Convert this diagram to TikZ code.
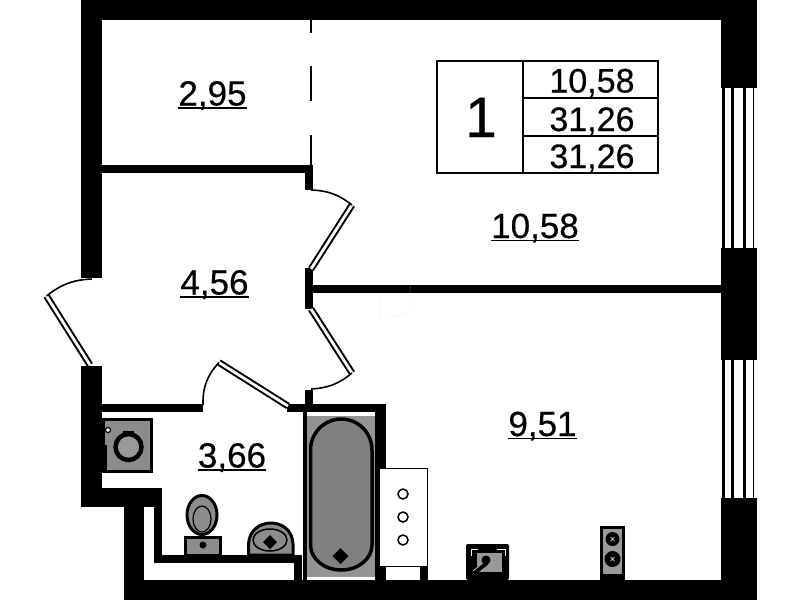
\documentclass[tikz,border=0pt]{standalone}
\usepackage{fontspec}
\setmainfont{Liberation Sans}[FakeBold=0.4]
\newcommand{\roomnum}[1]{\setbox0=\hbox{#1}\rlap{\vrule width\wd0 height-1.6pt depth 3pt}#1}

\begin{document}
\begin{tikzpicture}[
  x=1pt, y=-1pt,
  wall/.style={fill=black},
  doorleaf/.style={draw=black, line width=2pt, double=white, double distance=2.8pt},
  doorarc/.style={draw=black, line width=1.6pt},
  windowline/.style={draw=black, line width=3pt},
  fixture/.style={draw=black, fill=black!45, line width=3pt},
  roomlabel/.style={anchor=base, inner sep=0pt, font=\fontsize{35}{38}\selectfont},
  legendtext/.style={anchor=base, inner sep=0pt, font=\fontsize{34}{36}\selectfont}
]
\useasboundingbox[fill=white] (0,0) rectangle (799,600);

% walls
\foreach \xa/\ya/\xb/\yb in {
  81/0/757/20, 81/0/102/278, 81/366/102/507, 81/488/162/507, 124/488/144/600,
  124/580/757/600, 144/488/162/496, 154/488/162/563, 154/555/302/563, 294/555/302/580,
  721/0/757/88, 721/248/757/360, 721/498/757/600,
  102/165/313/173, 305/165/313/190, 305/268/313/309, 313/285/721/293,
  305/390/313/405, 102/404/203/412, 287/404/386/412, 303/404/307/580,
  375/404/386/580, 420/567/428/580}
  \fill[wall] (\xa,\ya) rectangle (\xb,\yb);

% windows
\foreach \ya/\yb in {88/248, 360/498}
  \foreach \xa in {723.5, 732.5, 744.5}
    \draw[windowline] (\xa,\ya) -- (\xa,\yb);
\draw[line width=1.6pt] (753.5,88) -- (753.5,248);
\draw[line width=1.6pt] (753.5,360) -- (753.5,498);

% partition
\coordinate (partitiontop) at (311,20);
\coordinate (partitionend) at (311,165);
\draw[line width=1.3pt, dash pattern=on 13pt off 33pt on 35pt off 34pt on 30pt] (partitiontop) -- (partitionend);

% doors
\coordinate (lefthinge) at (90,365);
\coordinate (leftfree) at (46.5,296);
\coordinate (leftjamb) at (92,279);
\coordinate (uphinge) at (311,269);
\coordinate (upfree) at (352,205);
\coordinate (upjamb) at (311,190);
\coordinate (lowhinge) at (311,309);
\coordinate (lowfree) at (352,373);
\coordinate (lowjamb) at (311,389);
\coordinate (bathhinge) at (288,406);
\coordinate (bathfree) at (219,362.5);
\coordinate (bathjamb) at (203,405);
\draw[doorleaf] (lefthinge) -- (leftfree);
\draw[doorleaf] (uphinge) -- (upfree);
\draw[doorleaf] (lowhinge) -- (lowfree);
\draw[doorleaf] (bathhinge) -- (bathfree);
\draw[doorarc] (leftfree) to[bend left=18] (leftjamb);
\draw[doorarc] (upfree) to[bend right=18] (upjamb);
\draw[doorarc] (lowfree) to[bend left=18] (lowjamb);
\draw[doorarc] (bathfree) to[bend right=22] (bathjamb);

% faint marks on the wall line
\draw[black!12, line width=0.5pt, densely dotted] (380,320) -- (380,296) (390,318) -- (410,312) -- (410,282) -- (396,280);

% washer
\draw[black, fill=black!45, line width=3pt] (103,419.5) rectangle (151.5,471.5);
\fill[black] (102,445) rectangle (107,470);
\draw[black, fill=black!40, line width=4.5pt] (128.5,447) circle (13);
\fill[black] (123,430.5) rectangle (134,435);
\draw[black, fill=white, line width=1.2pt] (108,430) circle (2.5);

% toilet
\draw[fixture] (202,515) ellipse (15 and 19.5);
\draw[black, fill=black!45, line width=1.2pt] (202,519) ellipse (9 and 13);
\draw[fixture] (185.5,537.5) rectangle (220,555);
\fill[black] (203,545) circle (3.5);

% washbasin
\draw[fixture] (248.5,555) -- (248.5,544) .. controls (250,516) and (292,516) .. (293,544) -- (293,555) -- cycle;
\draw[black, fill=black!45, line width=1.5pt] (270,540) ellipse (17 and 11);
\fill[black] (270,535) -- (277,542) -- (270,549) -- (263,542) -- cycle;

% bath
\fill[black!42] (307,416) rectangle (375,577);
\draw[black, fill=black!50, line width=3.5pt]
  (310.5,450) arc[start angle=180, end angle=360, x radius=30.75, y radius=31]
  -- (372,545) arc[start angle=0, end angle=180, x radius=30.75, y radius=25] -- cycle;
\fill[black] (340.5,548) -- (348.5,556) -- (340.5,564) -- (332.5,556) -- cycle;

% radiator
\node[draw=black, fill=white, line width=1pt, minimum width=48pt, minimum height=98pt, inner sep=0pt] (radiator) at (403.5,517.5) {};
\fill[white] (386,567.5) rectangle (420,580);
\foreach \ya in {494, 517, 540}
  \draw[black, line width=1.5pt] (403,\ya) circle (5);

% kitchen sink
\fill[black, rounded corners=2pt] (466,544) rectangle (509,580);
\draw[white, line width=0.7pt] (471,556) -- (471,549) -- (478,549) (497,549) -- (505,549) -- (505,556) (471,572) -- (471,575);
\draw[black, fill=black!40, line width=1.2pt] (476,552) rectangle (503,573);
\draw[black, line width=5pt, line cap=round] (472,574) -- (486,563);
\draw[white, line width=0.6pt] (473,571) -- (484,562);
\fill[black] (486,560) circle (4.5);

% hob
\draw[black, fill=black!40, line width=3pt] (601.5,527.5) rectangle (623.5,578);
\fill[black] (600,574) rectangle (625,579);
\foreach \ya/\r in {539/7, 559/8} {
  \fill[black] (612.5,\ya) circle (\r);
  \draw[white, line width=0.6pt] (610.5,\ya-2) -- (614.5,\ya+2) (614.5,\ya-2) -- (610.5,\ya+2);
}

% legend
\draw[line width=2pt] (436.5,60.5) rectangle (658,173);
\draw[line width=2pt] (522.5,60.5) -- (522.5,173);
\draw[line width=2pt] (522.5,98) -- (658,98);
\draw[line width=2pt] (522.5,136) -- (658,136);
\node[inner sep=0pt, anchor=base, font=\fontsize{57}{60}\selectfont] (flatno) at (481,137) {1};
\node[legendtext] (livingarea) at (592,92.5) {10,58};
\node[legendtext] (flatarea) at (592,131) {31,26};
\node[legendtext] (totalarea) at (592,168) {31,26};

% room areas
\node[roomlabel] (hall) at (212.5,105.5) {\roomnum{2,95}};
\node[roomlabel] (corridor) at (214.5,294.5) {\roomnum{4,56}};
\node[roomlabel] (bathroom) at (232,467.5) {\roomnum{3,66}};
\node[roomlabel] (bedroom) at (535,238) {\roomnum{10,58}};
\node[roomlabel] (kitchen) at (542.5,436) {\roomnum{9,51}};
\end{tikzpicture}
\end{document}
